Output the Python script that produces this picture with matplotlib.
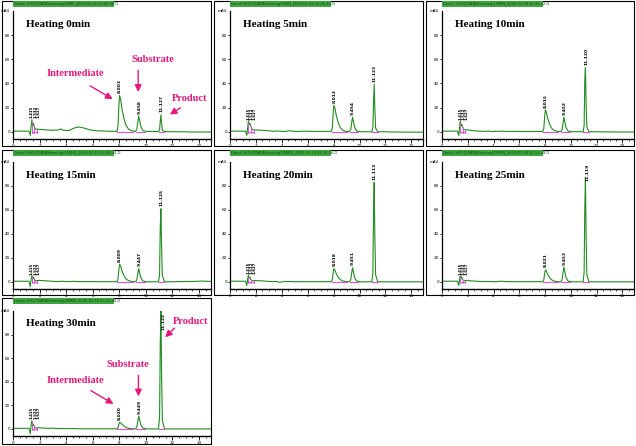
import matplotlib
matplotlib.use('Agg')
import matplotlib.pyplot as plt
from matplotlib.patches import Rectangle
from matplotlib.ticker import MultipleLocator
import numpy as np

# ---------------- data ----------------
TIME = [0.0, 1.2, 1.3, 1.36, 1.42, 1.48, 1.54, 1.6, 1.68, 1.8, 2.0,
        2.5, 3.0, 3.4, 3.6, 3.8, 4.2, 4.6, 4.9, 5.3, 5.8, 6.3, 7.0,
        7.82, 7.9, 7.96, 8.02, 8.1, 8.2, 8.35, 8.5, 8.7, 9.0,
        9.22, 9.32, 9.39, 9.46, 9.53, 9.62, 9.78, 10.1,
        10.6, 10.95, 11.03, 11.08, 11.13, 11.18, 11.24, 11.4,
        11.9, 12.6, 13.5, 14.2, 14.9]

SIG_0MIN = [0.5, 0.5, -3, 4, 10, 5, 7, 4, 2.5, 2, 2,
            1.5, 1.2, 1.5, 2.3, 1.2, 1.0, 3.0, 4.0, 3.2, 1.5, 0.8, 0.5,
            0.3, 4.8, 19.8, 30, 27, 18.9, 10.8, 5.4, 2.1, 0.6,
            0.3, 2.2, 8, 13, 9.3, 4.2, 0.9, 0.3,
            0.2, 0.2, 1.6, 8.5, 14, 7.1, 1.3, 0.2,
            0, 0, -0.2, -0.2, -0.3]
SIG_5MIN = [0.5, 0.5, -3, 3, 9, 6, 7, 5, 2.5, 1.5, 1.5,
            1.2, 0.8, 0.3, 0.8, 0.5, 0.2, 0.8, 0.4, 0.2, 0.5, 0.3, 0.3,
            0.3, 3.3, 14.3, 22, 19.8, 13.6, 7.7, 3.7, 1.3, 0.2,
            0.2, 1.8, 7.2, 12, 8.4, 3.6, 0.6, 0,
            0, 0, 4, 23.7, 39.5, 19.8, 3.2, 0,
            0, -0.2, -0.3, -0.3, -0.4]
SIG_10MIN = [0.5, 0.5, -3, 3, 9, 5, 6, 4, 2, 1.5, 1.5,
             0.8, 0.5, 0.3, 0.6, 0.3, 0.3, 0.5, 0.3, 0.2, 0.3, 0.2, 0.2,
             0.2, 2.7, 11.7, 18, 16.2, 11.2, 6.3, 3.1, 1.1, 0.2,
             0.2, 1.8, 7.2, 12, 8.4, 3.6, 0.6, 0,
             0, 0, 5, 42, 53, 26, 4, 0,
             0, -0.1, -0.2, -0.2, -0.2]
SIG_15MIN = [0.5, 0.5, -4, 2, 5, 3, 4, 2, 1, 1, 1.2,
             0.8, 0.4, 0.2, 0.5, 0.3, 0.2, 0.4, 0.2, 0.1, 0.2, 0.1, 0.1,
             0.1, 2.2, 9.6, 14.7, 13.2, 9.1, 5.1, 2.5, 0.9, 0.1,
             0.1, 1.7, 6.6, 11, 7.7, 3.3, 0.6, 0,
             0, 0, 6, 45, 61, 30, 5, 0,
             0, 0.2, 0.3, 0.6, 0.3]
SIG_20MIN = [0.5, 0.5, -3, 2, 5.5, 3, 4, 2, 1, 1, 1,
             0.8, 0.3, 0.2, 0.4, -0.5, 0.2, 0.3, 0.1, 0.1, 0.1, 0.1, 0.1,
             0.1, 1.7, 7.2, 11, 9.9, 6.8, 3.9, 1.9, 0.7, 0.1,
             0.1, 1.8, 7.1, 11.8, 8.3, 3.5, 0.6, 0,
             0, 0, 8, 55, 83, 40, 6, 0,
             0, 0, 0, 0, 0]
SIG_25MIN = [0.5, 0.5, -3, 2, 5, 3, 4, 2, 1, 1, 1,
             0.6, 0.3, 0.2, 0.3, 0.1, 0.1, 0.5, 0.2, 0.1, 0.1, 0.1, 0.1,
             0.1, 1.5, 6.5, 10, 9, 6.2, 3.5, 1.7, 0.6, 0.1,
             0.1, 1.8, 7.4, 12.3, 8.6, 3.7, 0.6, 0,
             0, 0, 8, 60, 87, 42, 6, 0,
             0, 0, 0, 0, 0]
SIG_30MIN = [0.5, 0.5, -4, 3, 7, 3, 4, 2, 1, 1, 1,
             0.5, 0.6, 0.3, 0.4, 0.2, 0.3, 0.3, 0.2, 0.1, 0.1, 0.1, 0.1,
             0.1, 1, 3.6, 5.5, 5.2, 4, 2.5, 1.3, 0.5, 0.1,
             0.1, 1.7, 6.6, 11, 7.7, 3.3, 0.6, 0,
             0, 0, 10, 70, 101, 48, 7, 0,
             0, 0, 0, 0, 0]

TITLES = ["Heating 0min", "Heating 5min", "Heating 10min", "Heating 15min",
          "Heating 20min", "Heating 25min", "Heating 30min"]
SIGNALS = [SIG_0MIN, SIG_5MIN, SIG_10MIN, SIG_15MIN, SIG_20MIN, SIG_25MIN, SIG_30MIN]

PEAK_APEX = [8.02, 9.46, 11.13]
PEAK_START = [7.86, 9.25, 10.98]
PEAK_END = [9.0, 9.9, 11.4]
EARLY_MARKS = [1.42, 1.6, 1.82]
RT_LABELS = [["8.003", "9.458", "11.127"], ["8.012", "9.454", "11.123"],
             ["8.015", "9.452", "11.120"], ["8.009", "9.447", "11.125"],
             ["8.018", "9.451", "11.113"], ["8.021", "9.453", "11.119"],
             ["8.020", "9.449", "11.122"]]
EARLY_LABELS = ["1.415", "1.532", "1.627"]
FILE_LABELS = ["DataC:\\HPLC\\DATA\\Heating\\0MIN_2020-01-19 21-05-28.D",
               "DataC:\\HPLC\\DATA\\Heating\\5MIN_2020-01-19 21-26-40.D",
               "DataC:\\HPLC\\DATA\\Heating\\10MIN_2020-01-19 21-47-52.D",
               "DataC:\\HPLC\\DATA\\Heating\\15MIN_2020-01-19 22-09-04.D",
               "DataC:\\HPLC\\DATA\\Heating\\20MIN_2020-01-19 22-30-16.D",
               "DataC:\\HPLC\\DATA\\Heating\\25MIN_2020-01-19 22-51-28.D",
               "DataC:\\HPLC\\DATA\\Heating\\30MIN_2020-01-19 23-12-40.D"]
X_TICKS = [0, 2, 4, 6, 8, 10, 12, 14]
Y_TICKS = [0, 20, 40, 60, 80]

# annotations: (text, text_xy, arrow_from, arrow_to)
ANNOT = {
    0: [("Intermediate", (2.5, 48), (5.8, 38), (7.5, 27)),
        ("Substrate", (8.95, 60), (9.42, 51), (9.42, 33)),
        ("Product", (11.95, 27.5), (12.6, 19.8), (11.8, 14.3))],
    6: [("Intermediate", (2.5, 41), (5.86, 32.5), (7.56, 21.2)),
        ("Substrate", (7.0, 54.3), (9.44, 45.5), (9.44, 27.6)),
        ("Product", (12.0, 91.5), (12.15, 85.5), (11.45, 77.7))],
}

# ---------------- layout (pixels) ----------------
W, H = 636, 446
fig = plt.figure(figsize=(W / 100, H / 100), dpi=100)
fig.patch.set_facecolor('white')

def px(x):
    return x / W

def py(y):
    return 1 - y / H

FRAME_X = [(2, 211), (214, 423), (426, 634)]
FRAME_Y = [(1, 146), (150, 295), (298, 444)]
AX_X = [(13, 211), (230, 423), (442, 634)]
AX_Y = [(11, 139), (162, 289), (311, 436)]

GREEN = '#228b22'
PINK = '#e050d0'
MAGENTA = '#e5177b'
SERIF = ['Liberation Serif', 'DejaVu Serif']

for i, (title, sig) in enumerate(zip(TITLES, SIGNALS)):
    r, c = divmod(i, 3)
    fl, fr = FRAME_X[c]
    ft, fb = FRAME_Y[r]
    fig.patches.append(Rectangle((px(fl), py(fb)), px(fr) - px(fl), py(ft) - py(fb),
                                 transform=fig.transFigure, fill=False,
                                 ec='black', lw=0.8))
    al, ar = AX_X[c]
    at, ab = AX_Y[r]
    # green file bar
    fig.patches.append(Rectangle((px(al), py(ft + 5.5)), px(101), py(ft) - py(ft + 5.5),
                                 transform=fig.transFigure, fc='#3fa53f', ec='none'))
    fig.text(px(al + 1), py(ft + 3), FILE_LABELS[i], fontsize=2.6, color='#0b4d0b',
             va='center', ha='left', family='DejaVu Sans')

    ax = fig.add_axes([px(al), py(ab), px(ar) - px(al), py(at) - py(ab)])
    ax.set_xlim(0, 14.9)
    ax.set_ylim(-6, 100)
    ax.plot(TIME, sig, color=GREEN, lw=0.8)

    # integration marks
    for s, e in zip(PEAK_START, PEAK_END):
        ax.plot([s, e], [0, 0], color=PINK, lw=0.8)
    for m in EARLY_MARKS:
        ax.plot([m, m], [-1, np.interp(m, TIME, sig) * 0.8], color=PINK, lw=0.7)
    ax.plot([EARLY_MARKS[0], EARLY_MARKS[-1]], [0, 0], color=PINK, lw=0.7)

    # retention time labels
    for t, lab in zip(PEAK_APEX, RT_LABELS[i]):
        h = float(np.interp(t, TIME, sig))
        if h + 14 > 98:
            ax.text(t + 0.2, 84, lab, rotation=90, fontsize=3.2, fontweight='bold',
                    ha='center', va='bottom')
        else:
            ax.text(t + 0.05, h + 2, lab, rotation=90, fontsize=3.2, fontweight='bold',
                    ha='center', va='bottom')
    eh = max(sig[3:9])
    for k, lab in enumerate(EARLY_LABELS):
        ax.text(1.40 + 0.26 * k, eh + 1, lab, rotation=90, fontsize=2.8,
                fontweight='bold', ha='center', va='bottom')

    # title
    ax.text(1.0, 89, title, fontsize=8, fontweight='bold', family=SERIF,
            ha='left', va='center')

    # axes styling
    for s in ['top', 'right']:
        ax.spines[s].set_visible(False)
    ax.spines['left'].set_linewidth(0.9)
    ax.spines['bottom'].set_linewidth(1.0)
    ax.set_xticks(X_TICKS)
    ax.set_xticklabels([str(v) for v in X_TICKS])
    ax.xaxis.set_minor_locator(MultipleLocator(0.5))
    ax.set_yticks(Y_TICKS)
    ax.set_yticklabels([str(v) for v in Y_TICKS])
    ax.tick_params(axis='x', which='major', length=3, width=0.6, labelsize=3, pad=0.3)
    ax.tick_params(axis='x', which='minor', length=1.5, width=0.5)
    ax.tick_params(axis='y', which='major', length=1.5, width=0.6, labelsize=3, pad=0.5)
    ax.text(-0.2, 100, 'mAU', fontsize=2.8, ha='right', va='center',
            transform=ax.transData, clip_on=False)
    ax.patch.set_alpha(0)

    for text, txy, a0, a1 in ANNOT.get(i, []):
        ax.text(txy[0], txy[1], text, color=MAGENTA, fontsize=7.5, fontweight='bold',
                family=SERIF, ha='left', va='center')
        ax.annotate('', xy=a1, xytext=a0,
                    arrowprops=dict(arrowstyle='-|>,head_length=0.5,head_width=0.25',
                                    color=MAGENTA, lw=1.0, mutation_scale=8,
                                    shrinkA=0, shrinkB=0))

fig.savefig('out.png', dpi=100, facecolor='white')
